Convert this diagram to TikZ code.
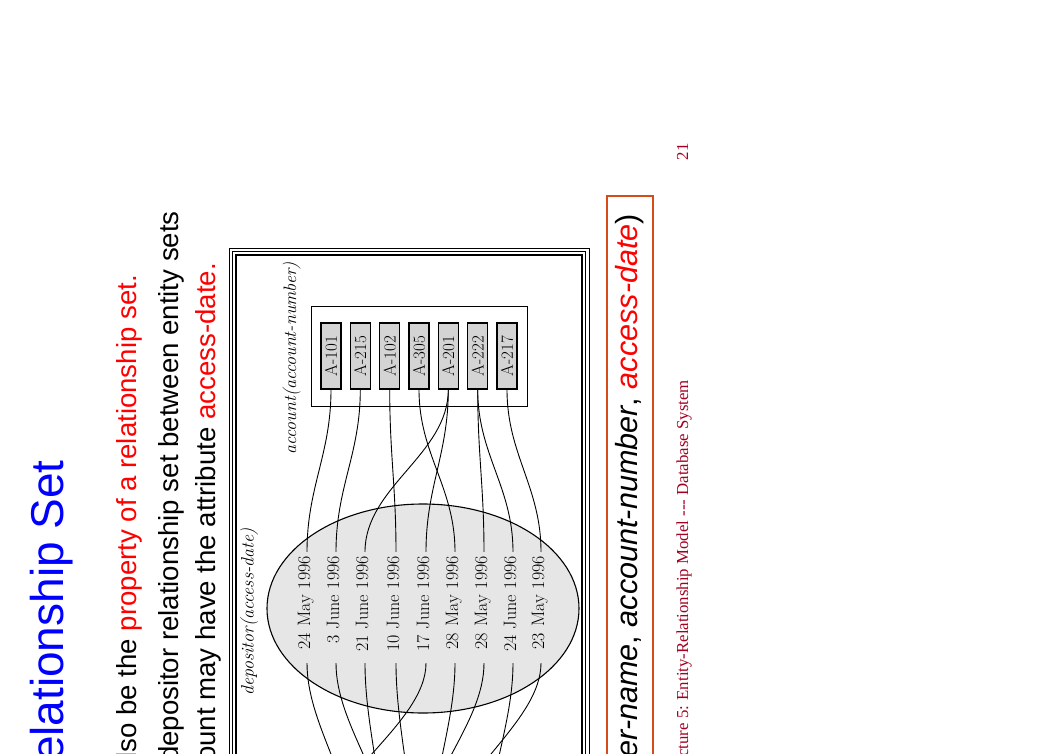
\documentclass[tikz,border=0pt]{standalone}
\usepackage{fontspec}
\usetikzlibrary{shapes.geometric}
\newfontfamily\arialf{Liberation Sans}
\newfontfamily\tnrf{Liberation Serif}
\definecolor{titleblue}{RGB}{0,0,255}
\definecolor{hlred}{RGB}{255,0,0}
\definecolor{boxorange}{RGB}{214,76,24}
\definecolor{footred}{RGB}{165,0,33}
\definecolor{accgray}{RGB}{212,212,212}
\definecolor{ellgray}{RGB}{230,230,230}
\tikzset{
  titletext/.style={rotate=90, inner sep=0pt, text=titleblue, font=\arialf\fontsize{46}{52}\selectfont},
  bodytext/.style={rotate=90, inner sep=0pt, font=\arialf\fontsize{27.6}{32}\selectfont},
  foottext/.style={rotate=90, inner sep=0pt, text=footred, font=\tnrf\fontsize{16.8}{19}\selectfont},
  lbl/.style={rotate=90, inner sep=0pt, font=\itshape\fontsize{18}{21}\selectfont},
  accbox/.style={rotate=90, draw, line width=1.1pt, fill=accgray, minimum width=66pt, minimum height=20pt, inner sep=0pt, font=\fontsize{17}{20}\selectfont},
  datebox/.style={rotate=90, inner xsep=4pt, inner ysep=0pt, text width=103pt, align=right, text height=0.644em, text depth=0pt, font=\fontsize{18}{21}\selectfont},
  conn/.style={line width=0.9pt, black},
}
\begin{document}
\begin{tikzpicture}[x=1pt,y=-1pt]
\path[use as bounding box, clip] (0,0) rectangle (1053,753);
\fill[white] (0,0) rectangle (1053,753);
% title and bullets
\node[titletext, anchor=base east] (title) at (63,460) {Relationship Set};
\node[bodytext, anchor=base east] (line1) at (136,275) {also be the \textcolor{hlred}{property of a relationship set.}};
\node[bodytext, anchor=base east] (line2) at (178,211) {depositor relationship set between entity sets};
\node[bodytext, anchor=base east] (line3) at (215,263) {account may have the attribute \textcolor{hlred}{access-date.}};
% frame
\draw[line width=0.8pt] (229,248) rectangle (589,820);
\draw[line width=1.3pt] (232.5,251.5) rectangle (585.5,820);
\draw[line width=1.3pt] (236,255) rectangle (582,820);
% labels
\node[lbl, anchor=base east] (acclbl) at (296,262) {account(account-number)};
\node[lbl, anchor=base east] (deplbl) at (253.5,528) {depositor(access-date)};
% account entity set
\node[draw, line width=1pt, fill=white, minimum width=216pt, minimum height=100pt, inner sep=0pt] (accset) at (419,356) {};
\node[accbox] (a1) at (331,356) {A-101};
\node[accbox] (a2) at (360.3,356) {A-215};
\node[accbox] (a3) at (389.7,356) {A-102};
\node[accbox] (a4) at (419,356) {A-305};
\node[accbox] (a5) at (448.3,356) {A-201};
\node[accbox] (a6) at (477.7,356) {A-222};
\node[accbox] (a7) at (507,356) {A-217};
% relationship set
\node[ellipse, draw, line width=1.1pt, fill=ellgray, minimum width=312pt, minimum height=209pt, inner sep=0pt] (rel) at (423,608.5) {};
\node[datebox] (d1) at (307,607.5) {24 May 1996};
\node[datebox] (d2) at (336,607.5) {3 June 1996};
\node[datebox] (d3) at (365,607.5) {21 June 1996};
\node[datebox] (d4) at (396,607.5) {10 June 1996};
\node[datebox] (d5) at (426,607.5) {17 June 1996};
\node[datebox] (d6) at (455,607.5) {28 May 1996};
\node[datebox] (d7) at (484,607.5) {28 May 1996};
\node[datebox] (d8) at (513,607.5) {24 June 1996};
\node[datebox] (d9) at (541,607.5) {23 May 1996};
% account -> depositor
\draw[conn] (a1.west) .. controls +(0,65) and +(0,-65) .. (d1.east);
\draw[conn] (a2.west) .. controls +(0,65) and +(0,-65) .. (d2.east);
\draw[conn] (a3.west) .. controls +(0,65) and +(0,-65) .. (d4.east);
\draw[conn] (a4.west) .. controls +(0,65) and +(0,-65) .. (d6.east);
\draw[conn] (a5.west) .. controls +(0,65) and +(0,-65) .. (d3.east);
\draw[conn] (a5.west) .. controls +(0,65) and +(0,-65) .. (d5.east);
\draw[conn] (a6.west) .. controls +(0,65) and +(0,-65) .. (d7.east);
\draw[conn] (a6.west) .. controls +(0,65) and +(0,-65) .. (d8.east);
\draw[conn] (a7.west) .. controls +(0,65) and +(0,-65) .. (d9.east);
% depositor -> customer (below the visible area)
\coordinate (c1) at (353,840);
\coordinate (c2) at (388,840);
\coordinate (c3) at (383,840);
\coordinate (c4) at (412,840);
\coordinate (c5) at (322,840);
\coordinate (c6) at (431,840);
\coordinate (c7) at (422,840);
\coordinate (c8) at (487,840);
\coordinate (c9) at (445,840);
\draw[conn] (d1.west) .. controls +(0,60) and +(0,-60) .. (c1);
\draw[conn] (d2.west) .. controls +(0,60) and +(0,-60) .. (c2);
\draw[conn] (d3.west) .. controls +(0,60) and +(0,-60) .. (c3);
\draw[conn] (d4.west) .. controls +(0,60) and +(0,-60) .. (c4);
\draw[conn] (d5.west) .. controls +(0,60) and +(0,-60) .. (c5);
\draw[conn] (d6.west) .. controls +(0,60) and +(0,-60) .. (c6);
\draw[conn] (d7.west) .. controls +(0,60) and +(0,-60) .. (c7);
\draw[conn] (d8.west) .. controls +(0,60) and +(0,-60) .. (c8);
\draw[conn] (d9.west) .. controls +(0,60) and +(0,-60) .. (c9);
% schema box
\node[bodytext, font=\arialf\fontsize{30.6}{35}\selectfont, draw=boxorange, line width=1.8pt, inner xsep=18pt, minimum height=46pt, anchor=east] (schema) at (630,195) {(\textit{customer-name}, \textit{account-number}, \textcolor{hlred}{\textit{access-date}})};
% footer
\node[foottext, anchor=base east] (footer) at (688,380) {Lecture 5: Entity-Relationship Model --- Database System};
\node[foottext, anchor=base east] (pagenum) at (688,143) {21};
\end{tikzpicture}
\end{document}
